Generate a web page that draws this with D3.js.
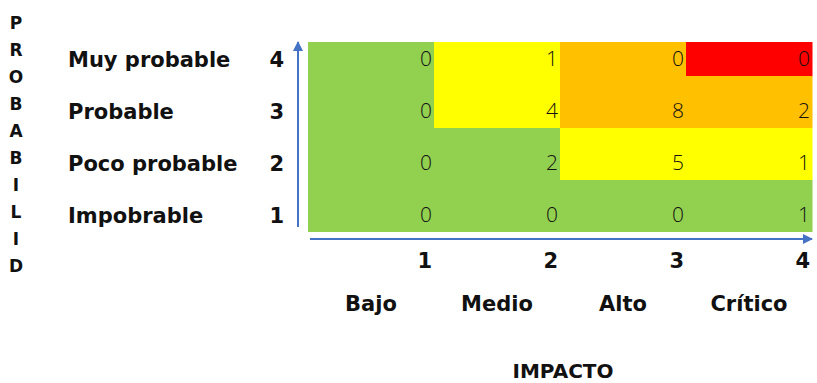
<!DOCTYPE html>
<html><head><meta charset="utf-8">
<script src="https://cdn.jsdelivr.net/npm/d3@7"></script>
<style>body{margin:0;background:#fff}svg{display:block}</style>
</head><body>
<svg id="c" width="817" height="383"></svg>
<script>
const impactLevels = [1, 2, 3, 4];
const impactLabels = ["Bajo", "Medio", "Alto", "Crítico"];
const probLevels = [4, 3, 2, 1];
const probLabels = ["Muy probable", "Probable", "Poco probable", "Impobrable"];
// values[row][col], rows ordered as probLevels (4 -> 1)
const counts = [
  [0, 1, 0, 0],
  [0, 4, 8, 2],
  [0, 2, 5, 1],
  [0, 0, 0, 1]
];
const riskClass = [
  ["low", "mid", "high", "crit"],
  ["low", "mid", "high", "high"],
  ["low", "low", "mid", "mid"],
  ["low", "low", "low", "low"]
];
const sideTitle = ["P", "R", "O", "B", "A", "B", "I", "L", "I", "D"];
const bottomTitle = "IMPACTO";

const colors = {low: "#92D050", mid: "#FFFF00", high: "#FFC000", crit: "#FF0000"};
const svg = d3.select("#c");
const x = d3.scaleBand().domain(impactLevels).range([308, 812]);
const y = d3.scaleBand().domain(probLevels).range([24, 232]);
const gridTop = 42;

const defs = svg.append("defs");
defs.append("clipPath").attr("id", "clip").append("rect")
  .attr("x", 300).attr("y", gridTop).attr("width", 517).attr("height", 232 - gridTop);
defs.append("marker").attr("id", "arr").attr("viewBox", "0 0 10 10")
  .attr("refX", 9).attr("refY", 5).attr("markerWidth", 5.5).attr("markerHeight", 5)
  .attr("markerUnits", "strokeWidth").attr("orient", "auto")
  .append("path").attr("d", "M0,0L10,5L0,10Z").attr("fill", "#4472C4");

const cells = [];
probLevels.forEach((p, i) => impactLevels.forEach((m, j) =>
  cells.push({p, m, v: counts[i][j], c: riskClass[i][j]})));

const g = svg.append("g").attr("clip-path", "url(#clip)");
g.selectAll("rect").data(cells).join("rect")
  .attr("x", d => x(d.m)).attr("y", d => y(d.p))
  .attr("width", x.bandwidth() + 0.5).attr("height", y.bandwidth() + 0.5)
  .attr("fill", d => colors[d.c]);
g.selectAll("text").data(cells).join("text")
  .attr("x", d => x(d.m) + x.bandwidth() - 2)
  .attr("y", d => y(d.p) + y.bandwidth() - 10)
  .attr("text-anchor", "end")
  .attr("font-family", "Open Sans").attr("font-weight", 300).attr("font-size", 21)
  .attr("fill", "#111").text(d => d.v);

const bold = {"font-family": "DejaVu Sans", "font-weight": "bold", "fill": "#111"};
function applyBold(sel, size) {
  Object.entries(bold).forEach(([k, v]) => sel.attr(k, v));
  sel.attr("font-size", size);
  return sel;
}

// left labels
applyBold(svg.append("g").selectAll("text").data(probLevels).join("text")
  .attr("x", 68).attr("y", d => y(d) + y.bandwidth() - 9)
  .text((d, i) => probLabels[i]), 21);
applyBold(svg.append("g").selectAll("text").data(probLevels).join("text")
  .attr("x", 284).attr("text-anchor", "end").attr("y", d => y(d) + y.bandwidth() - 9)
  .text(d => d), 21);

// bottom tick numbers & labels
applyBold(svg.append("g").selectAll("text").data(impactLevels).join("text")
  .attr("x", d => x(d) + x.bandwidth() - 2).attr("text-anchor", "end").attr("y", 268)
  .text(d => d), 21);
applyBold(svg.append("g").selectAll("text").data(impactLevels).join("text")
  .attr("x", d => x(d) + x.bandwidth() / 2).attr("text-anchor", "middle").attr("y", 311)
  .text((d, i) => impactLabels[i]), 21);
applyBold(svg.append("text").attr("x", (x.range()[0] + x.range()[1]) / 2 + 3)
  .attr("text-anchor", "middle").attr("y", 378).text(bottomTitle), 20);

// vertical title
applyBold(svg.append("g").selectAll("text").data(sideTitle).join("text")
  .attr("x", 16).attr("text-anchor", "middle").attr("y", (d, i) => 28.5 + i * 27.1)
  .text(d => d), 17);

// arrows
svg.append("line").attr("x1", 298).attr("y1", 227).attr("x2", 298).attr("y2", 42)
  .attr("stroke", "#4472C4").attr("stroke-width", 2).attr("marker-end", "url(#arr)");
svg.append("line").attr("x1", 310).attr("y1", 239).attr("x2", 812).attr("y2", 239)
  .attr("stroke", "#4472C4").attr("stroke-width", 2).attr("marker-end", "url(#arr)");
</script>
</body></html>
